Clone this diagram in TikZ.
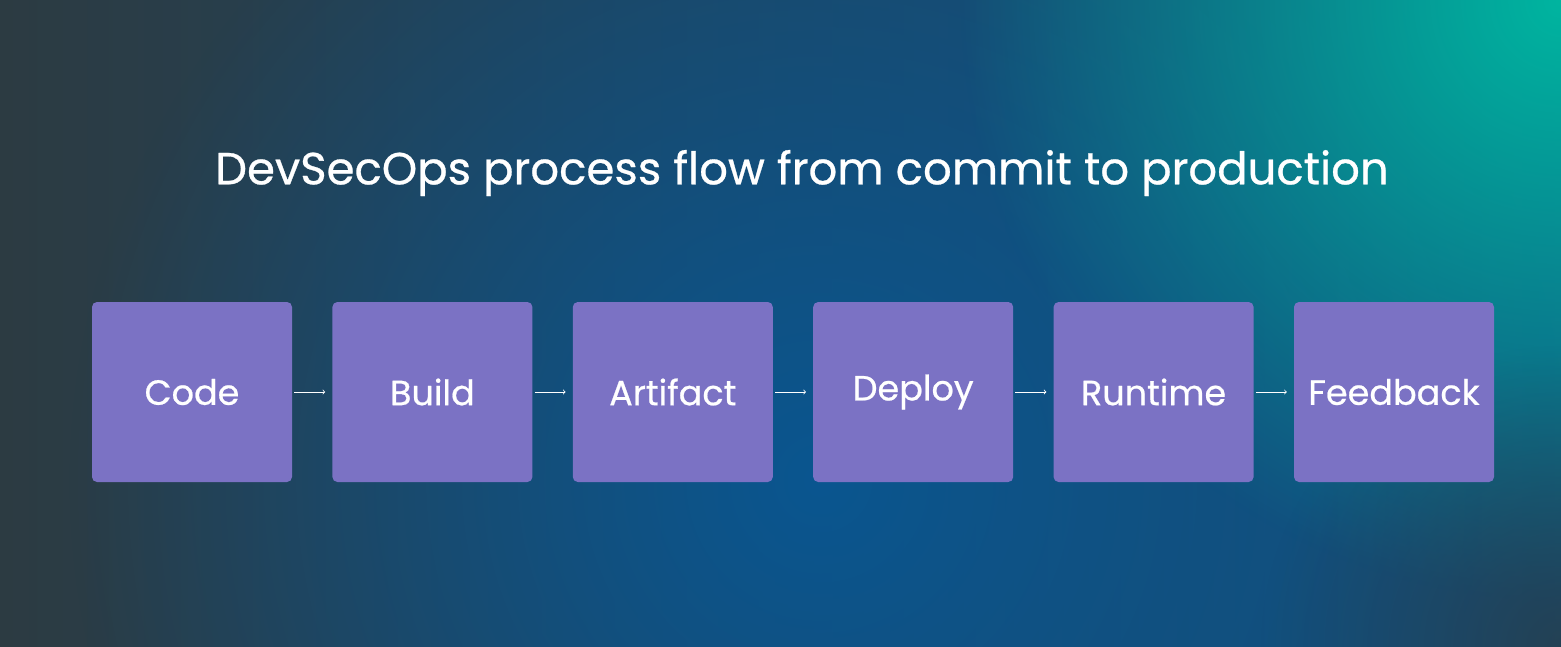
\documentclass[tikz,border=0pt]{standalone}
\usepackage{fontspec}
\setmainfont{Poppins}
\newfontfamily\medfont{Poppins}[FakeBold=0.6]
\usetikzlibrary{positioning,fadings}
\definecolor{bgdark}{HTML}{2C3B42}
\definecolor{bgblue}{HTML}{0A5690}
\definecolor{bgteal}{HTML}{00B5A0}
\definecolor{stepfill}{HTML}{7B72C4}
\tikzfading[name=softglow, inner color=transparent!0, outer color=transparent!100]
\tikzset{
  stage/.style={fill=stepfill, rounded corners=5pt, minimum width=200pt,
    minimum height=180pt, inner sep=0pt, text=white, font=\medfont\fontsize{35}{40}\selectfont},
  flow/.style={draw=white, line width=0.8pt, ->, >=to}
}
\begin{document}
\begin{tikzpicture}[x=1pt,y=-1pt]
\useasboundingbox (0,0) rectangle (1561,646);
% background
\shade[left color=bgdark, right color=bgblue!80!bgdark] (0,0) rectangle (1561,646);
\begin{scope}
\clip (0,0) rectangle (1561,646);
\fill[bgblue, path fading=softglow] (820,480) circle (750);
\fill[bgteal, path fading=softglow] (1561,0) circle (600);
\fill[bgdark, path fading=softglow, opacity=0.7] (1561,646) circle (300);
\end{scope}
% title
\node[text=white, font=\medfont\fontsize{45}{50}\selectfont] (title) at (802,173) {DevSecOps process flow from commit to production};
% stages
\node[stage] (code) at (192,392) {Code};
\node[stage, right=40pt of code] (build) {Build};
\node[stage, right=40pt of build] (artifact) {Artifact};
\node[stage, right=40pt of artifact] (deploy) {Deploy};
\node[stage, right=40pt of deploy] (runtime) {Runtime};
\node[stage, right=40pt of runtime] (feedback) {Feedback};
\foreach \a/\b in {code/build,build/artifact,artifact/deploy,deploy/runtime,runtime/feedback}
  \draw[flow, shorten <=2pt, shorten >=7pt] (\a) -- (\b);
\end{tikzpicture}
\end{document}
